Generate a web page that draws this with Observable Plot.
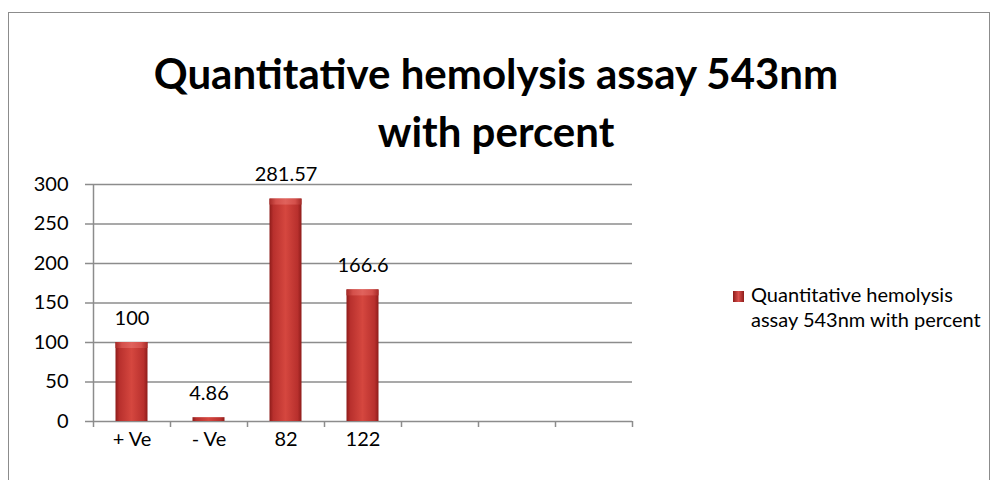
<!DOCTYPE html>
<html><head><meta charset="utf-8">
<script src="https://cdn.jsdelivr.net/npm/d3@7"></script>
<script src="https://cdn.jsdelivr.net/npm/@observablehq/plot@0.6"></script>
<style>
body{margin:0;background:#fff;font-family:Lato,"Open Sans",sans-serif;}
#wrap{position:relative;width:992px;height:480px;overflow:hidden;background:#fff;}
#border{position:absolute;left:8px;top:12px;width:982px;height:520px;border:1.5px solid #8c8c8c;box-sizing:border-box;}
#title{position:absolute;left:0;width:992px;top:44px;text-align:center;font-weight:bold;font-size:42px;line-height:58px;color:#000;}
#legend{position:absolute;left:733px;top:282px;font-size:20px;line-height:25px;color:#000;}
#legend .sw{position:absolute;left:0;top:9px;width:11px;height:11px;background:linear-gradient(90deg,#8e1c1a,#d9504d 50%,#8e1c1a);}
#legend .tx{position:absolute;left:18px;top:0;white-space:nowrap;}
#chart svg{position:absolute;left:0;top:0;}
</style></head>
<body>
<div id="wrap">
  <div id="border"></div>
  <div id="chart"></div>
  <div id="title"></div>
  <div id="legend"><div class="sw"></div><div class="tx"></div></div>
</div>
<script>
const titleLines = ["Quantitative hemolysis assay 543nm", "with percent"];
const seriesName = ["Quantitative hemolysis", "assay 543nm with percent"];
const categories = ["+ Ve", "- Ve", "82", "122"];
const values = [100, 4.86, 281.57, 166.6];
const valueLabels = ["100", "4.86", "281.57", "166.6"];
const emptySlots = ["_e1", "_e2", "_e3"];
const yTicks = [0, 50, 100, 150, 200, 250, 300];

const data = categories.map((c, i) => ({cat: c, value: values[i], label: valueLabels[i]}));
const allCats = [...categories, ...emptySlots];

const W = 992, H = 480, mL = 93, mR = 360, mT = 184, mB = 59;
const step = (W - mL - mR) / allCats.length;
const barInset = (step - 32) / 2;
const frameH = H - mT - mB;
const gridColor = "#8c8c8c";

const svg = Plot.plot({
  width: W, height: H,
  marginLeft: mL, marginRight: mR, marginTop: mT, marginBottom: mB,
  style: {fontFamily: "Lato, 'Open Sans', sans-serif", fontSize: "20px", color: "#000", background: "transparent"},
  x: {type: "band", domain: allCats, padding: 0, axis: null},
  y: {domain: [0, 300], axis: null},
  marks: [
    Plot.ruleY(yTicks, {y: d => d, insetLeft: -8, stroke: gridColor, strokeWidth: 1.5}),
    Plot.ruleX([allCats[0]], {x: d => d, dx: -step / 2, insetBottom: -6, stroke: gridColor, strokeWidth: 1.5}),
    Plot.ruleX(allCats.slice(1), {x: d => d, dx: -step / 2, insetTop: frameH, insetBottom: -6, stroke: gridColor, strokeWidth: 1.5}),
    Plot.ruleX([allCats[allCats.length - 1]], {x: d => d, dx: step / 2, insetTop: frameH, insetBottom: -6, stroke: gridColor, strokeWidth: 1.5}),
    Plot.barY(data, {x: "cat", y: "value", fill: "url(#barGrad)", insetLeft: barInset, insetRight: barInset}),
    Plot.barY(data.filter(d => d.value > 20), {x: "cat", y1: "value", y2: "value", insetBottom: -6, insetLeft: barInset, insetRight: barInset, fill: "url(#capGrad)"}),
    Plot.text(data, {x: "cat", y: "value", text: "label", dy: -24, fontSize: 20, fill: "#000"}),
    Plot.axisX({tickSize: 0, tickPadding: 10, fontSize: 20, label: null, tickFormat: d => emptySlots.includes(d) ? "" : d}),
    Plot.axisY(yTicks, {tickSize: 0, tickPadding: 25, fontSize: 20, label: null})
  ]
});

const defs = d3.select(svg).insert("defs", ":first-child");
const g1 = defs.append("linearGradient").attr("id", "barGrad").attr("x1", "0").attr("x2", "1").attr("y1", "0").attr("y2", "0");
[["0%", "#8e1c1a"], ["12%", "#b8302d"], ["50%", "#d5473f"], ["88%", "#b8302d"], ["100%", "#8e1c1a"]]
  .forEach(([o, c]) => g1.append("stop").attr("offset", o).attr("stop-color", c));
const g2 = defs.append("linearGradient").attr("id", "capGrad").attr("x1", "0").attr("x2", "1").attr("y1", "0").attr("y2", "0");
[["0%", "#a62a27"], ["20%", "#d4504b"], ["50%", "#e0625c"], ["80%", "#d4504b"], ["100%", "#a62a27"]]
  .forEach(([o, c]) => g2.append("stop").attr("offset", o).attr("stop-color", c));

document.getElementById("chart").appendChild(svg);
document.getElementById("title").innerHTML = titleLines.join("<br>");
document.querySelector("#legend .tx").innerHTML = seriesName.join("<br>");
</script>
</body></html>
